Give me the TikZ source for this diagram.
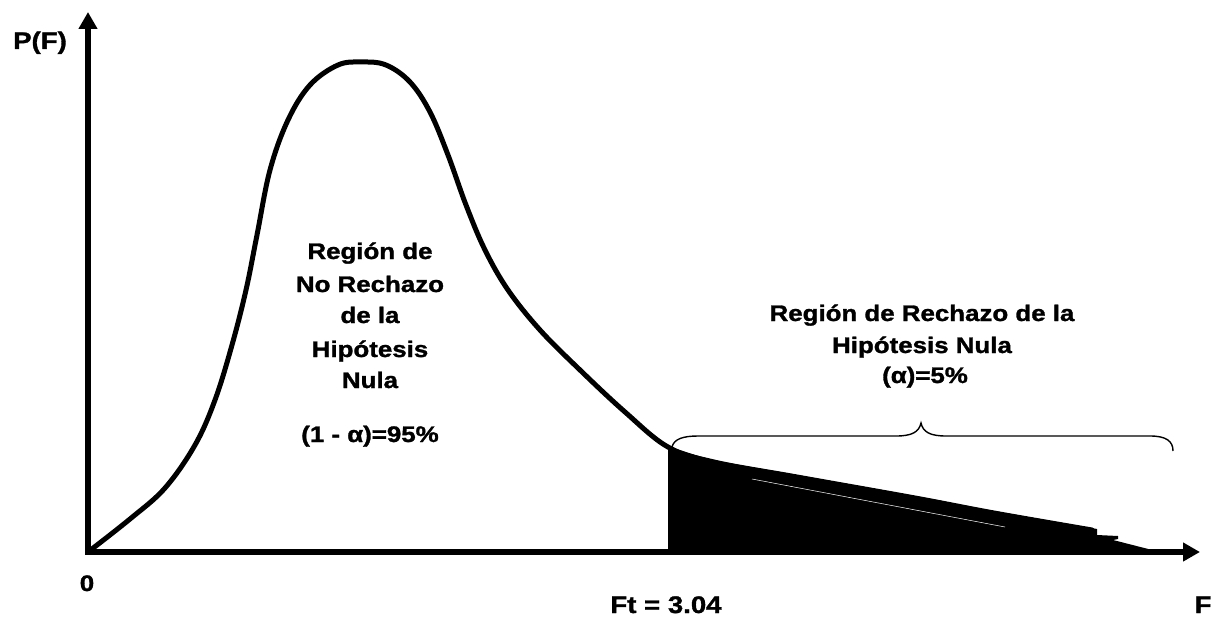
\documentclass[tikz,border=0pt]{standalone}
\usepackage{fontspec}
\setmainfont{Liberation Sans}[BoldFeatures={FakeBold=1.2}]
\usepackage{graphicx}
\usetikzlibrary{arrows.meta}
\newcommand{\hx}[1]{\scalebox{1.15}[1]{#1}}
\begin{document}
\begin{tikzpicture}[x=1pt,y=-1pt,
  axis/.style={line width=5.5pt, line join=miter},
  curveline/.style={line width=5pt, line join=round, line cap=round},
  lbl/.style={inner sep=0pt, anchor=base, font=\bfseries\fontsize{22.5}{26}\selectfont},
  big/.style={lbl, font=\bfseries\fontsize{24}{28}\selectfont},
  bracestyle/.style={line width=1.4pt}]
\useasboundingbox (0,0) rectangle (1221,618);
\fill[white] (0,0) rectangle (1221,618);

\coordinate (o) at (88,552);
\coordinate (ytip) at (88,12);
\coordinate (xtip) at (1200,552);

% rejection region fill
\fill[black] (668,552) -- (668,446)
  -- plot[smooth, tension=0.5] coordinates {(668,446) (714,460) (797,475) (915,496) (994,511) (1097,529)}
  -- (1097,535) -- (1118,536) -- (1118,539) -- (1113,540) -- (1160,552) -- cycle;
\draw[white, line width=0.5pt] (752,479) -- (1005,527);

% density curve
\draw[curveline] plot[smooth, tension=0.6] coordinates {
 (88,552) (130,519) (165,488) (195,445) (215,400) (232,345) (246,290)
 (257,235) (270,170) (288,120) (310,85) (338,65) (362,62) (386,65)
 (410,82) (430,112) (448,155) (466,205) (485,250) (508,290) (540,330) (580,370)
 (625,412) (668,447) (714,462) (797,477) (915,498) (994,513) (1092,530)};

% axes
\draw[axis, {Triangle[length=17pt,width=18pt]}-{Triangle[length=17pt,width=18pt]}] (ytip) -- (o) -- (xtip);

% brace
\draw[bracestyle] (672,447) .. controls (674,439) and (683,436) .. (698,436)
  -- (896,436) .. controls (912,436) and (919,432) .. (921,423)
  .. controls (923,432) and (930,436) .. (946,436)
  -- (1150,436) .. controls (1166,436) and (1173,441) .. (1173,451);

% labels
\node[big] (pf) at (40,49) {\hx{P(F)}};
\node[lbl] (zero) at (87,591) {\hx{0}};
\node[big] (ft) at (666,613) {\hx{Ft = 3.04}};
\node[big] (fl) at (1203,613) {\hx{F}};

\node[lbl] (l1) at (370,259) {\hx{Región de}};
\node[lbl] (l2) at (370,292) {\hx{No Rechazo}};
\node[lbl] (l3) at (370,323) {\hx{de la}};
\node[lbl] (l4) at (370,357) {\hx{Hipótesis}};
\node[lbl] (l5) at (370,388) {\hx{Nula}};
\node[lbl] (l6) at (370,442) {\hx{(1 - α)=95\%}};

\node[lbl] (r1) at (922,321) {\hx{Región de Rechazo de la}};
\node[lbl] (r2) at (922,353) {\hx{Hipótesis Nula}};
\node[lbl] (r3) at (925,383) {\hx{(α)=5\%}};
\end{tikzpicture}
\end{document}
